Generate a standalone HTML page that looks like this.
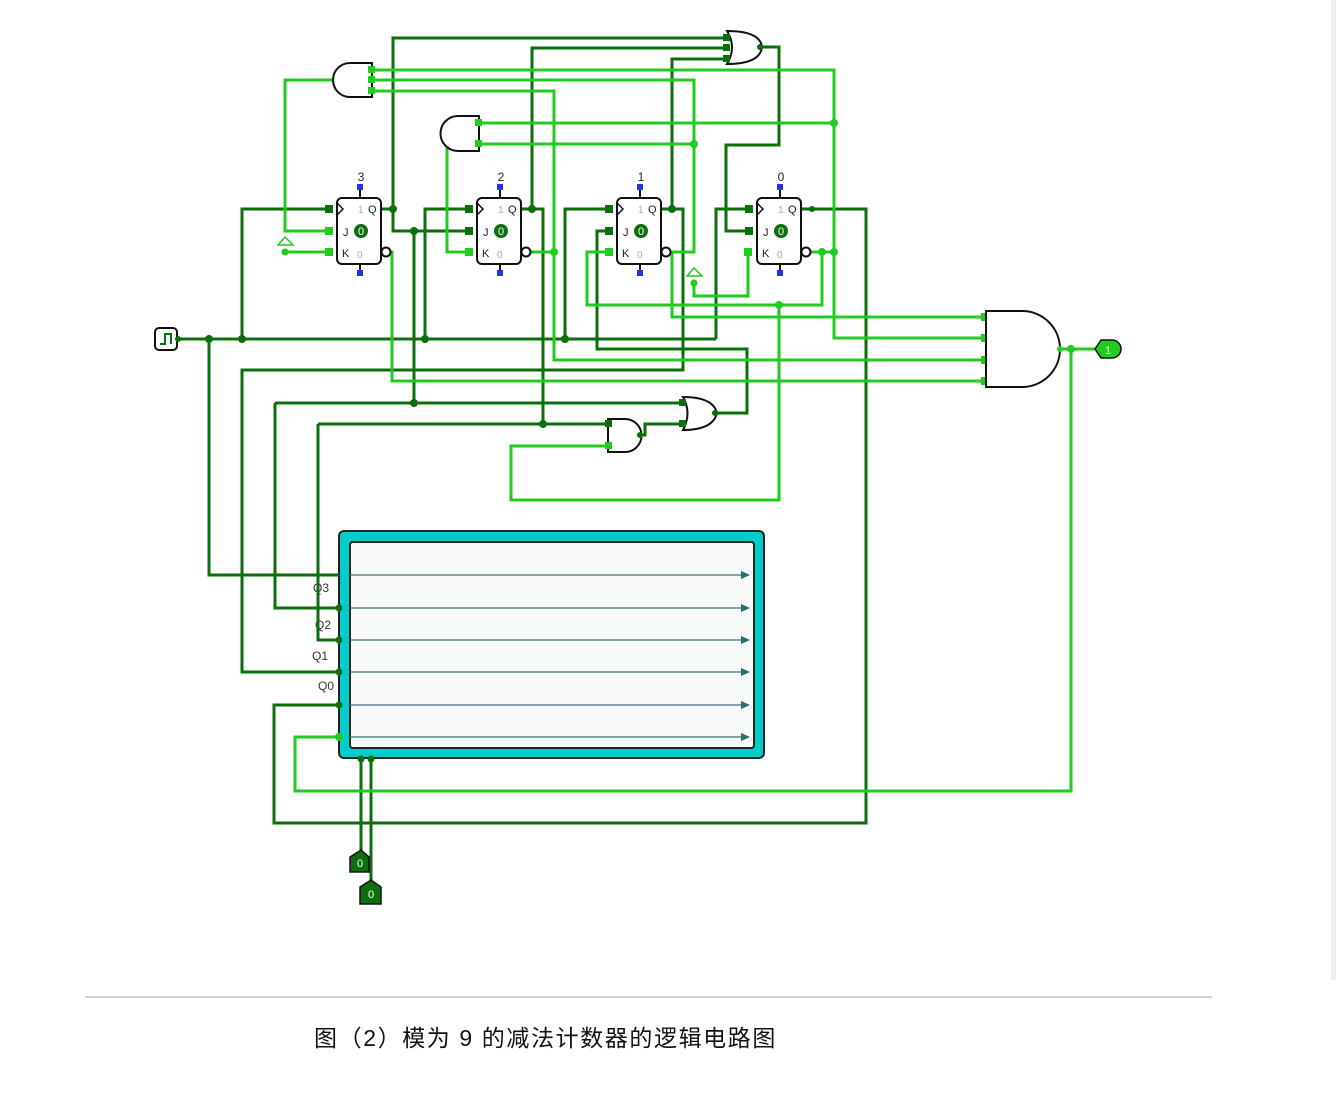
<!DOCTYPE html>
<html><head><meta charset="utf-8"><style>
html,body{margin:0;padding:0;background:#fff;}
svg{display:block;}
</style></head><body>
<svg width="1336" height="1104" viewBox="0 0 1336 1104" xmlns="http://www.w3.org/2000/svg" font-family="Liberation Sans, sans-serif">
<rect width="1336" height="1104" fill="#fff"/>
<rect x="1331" y="0" width="5" height="980" fill="#eee"/>
<!-- block -->
<rect x="339" y="531" width="425" height="227" rx="5" fill="#00cccc" stroke="#222" stroke-width="2"/>
<rect x="350" y="542" width="404" height="206" rx="3" fill="#f8f9f9" stroke="#222" stroke-width="2"/>
<g stroke="#3a6f7a" stroke-width="1.2">
<line x1="350" y1="575" x2="745" y2="575"/><line x1="350" y1="608" x2="745" y2="608"/>
<line x1="350" y1="640" x2="745" y2="640"/><line x1="350" y1="672" x2="745" y2="672"/>
<line x1="350" y1="705" x2="745" y2="705"/><line x1="350" y1="737" x2="745" y2="737"/>
</g>
<g fill="#2a6a75">
<polygon points="741,571 750,575 741,579"/><polygon points="741,604 750,608 741,612"/>
<polygon points="741,636 750,640 741,644"/><polygon points="741,668 750,672 741,676"/>
<polygon points="741,701 750,705 741,709"/><polygon points="741,733 750,737 741,741"/>
</g>
<g font-size="12" fill="#333"><text x="313" y="592">Q3</text><text x="315" y="629">Q2</text><text x="312" y="660">Q1</text><text x="318" y="690">Q0</text></g>

<!-- dark wires -->
<g fill="none" stroke="#0b6f0b" stroke-width="3">
<polyline points="178,339 716,339"/>
<polyline points="242,339 242,209 330,209"/>
<polyline points="425,339 425,209 470,209"/>
<polyline points="565,339 565,209 610,209"/>
<polyline points="716,339 716,209 750,209"/>
<polyline points="209,339 209,575 339,575"/>
<polyline points="382,209 393,209 393,38 727,38"/>
<polyline points="393,209 393,231 470,231"/>
<polyline points="414,231 414,403 683,403"/>
<polyline points="275,403 414,403"/>
<polyline points="275,403 275,608 339,608"/>
<polyline points="522,209 532,209 532,48 727,48"/>
<polyline points="532,209 543,209 543,424 608,424"/>
<polyline points="318,424 543,424"/>
<polyline points="318,424 318,640 339,640"/>
<polyline points="662,209 672,209 672,59 727,59"/>
<polyline points="672,209 683,209 683,370 242,370 242,672 339,672"/>
<polyline points="760,47 779,47 779,145 726,145 726,231 750,231"/>
<polyline points="715,413 747,413 747,349 597,349 597,231 610,231"/>
<polyline points="640,435 645,435 645,424 683,424"/>
<polyline points="802,209 866,209 866,823 274,823 274,705 339,705"/>
<polyline points="361,758 361,850"/><polyline points="371,758 371,880"/>
</g>
<!-- light wires -->
<g fill="none" stroke="#1fcc1f" stroke-width="3">
<polyline points="339,80 285,80 285,231 330,231"/>
<polyline points="285,252 330,252"/>
<polyline points="372,70 834,70 834,338 985,338"/>
<polyline points="372,80 694,80 694,252 662,252"/>
<polyline points="372,91 554,91 554,360 985,360"/>
<polyline points="522,252 554,252"/>
<polyline points="479,123 834,123"/><polyline points="479,144 694,144"/>
<polyline points="447,133 447,252 470,252"/>
<polyline points="386,252 392,252 392,381 985,381"/>
<polyline points="672,252 672,317 985,317"/>
<polyline points="610,252 587,252 587,305 822,305 822,252 802,252 834,252"/>
<polyline points="748,252 748,296 694,296 694,283"/>
<polyline points="608,446 511,446 511,500 779,500 779,305"/>
<polyline points="1060,349 1095,349"/>
<polyline points="1071,349 1071,791 295,791 295,737 339,737"/>
</g>
<!-- dots -->
<g fill="#0b6f0b">
<circle cx="209" cy="339" r="4"/><circle cx="242" cy="339" r="4"/><circle cx="425" cy="339" r="4"/><circle cx="565" cy="339" r="4"/>
<circle cx="393" cy="209" r="4"/><circle cx="532" cy="209" r="4"/><circle cx="672" cy="209" r="4"/><circle cx="812" cy="209" r="3"/>
<circle cx="414" cy="231" r="4"/><circle cx="414" cy="403" r="4"/><circle cx="543" cy="424" r="4"/>
<rect x="325" y="205" width="8" height="8"/><rect x="465" y="205" width="8" height="8"/><rect x="605" y="205" width="8" height="8"/><rect x="745" y="205" width="8" height="8"/>
<rect x="465" y="227" width="8" height="8"/><rect x="605" y="227" width="8" height="8"/><rect x="745" y="227" width="8" height="8"/>
<circle cx="339" cy="608" r="3.5"/><circle cx="339" cy="640" r="3.5"/><circle cx="339" cy="672" r="3.5"/><circle cx="339" cy="705" r="3.5"/>
<circle cx="361" cy="759" r="3.5"/><circle cx="371" cy="759" r="3.5"/>
</g>
<g fill="#1fcc1f">
<circle cx="834" cy="123" r="4"/><circle cx="694" cy="144" r="4"/><circle cx="554" cy="252" r="4"/><circle cx="834" cy="252" r="4"/><circle cx="822" cy="252" r="4"/>
<circle cx="779" cy="305" r="4"/><circle cx="1071" cy="349" r="4"/><circle cx="285" cy="252" r="3.5"/><circle cx="694" cy="283" r="3.5"/>
<circle cx="339" cy="737" r="4"/><circle cx="339" cy="80" r="3"/><circle cx="447" cy="133" r="3"/>
<rect x="325" y="227" width="8" height="8"/><rect x="325" y="248" width="8" height="8"/><rect x="465" y="248" width="8" height="8"/><rect x="605" y="248" width="8" height="8"/><rect x="744" y="248" width="8" height="8"/>
<rect x="981" y="313" width="8" height="8"/><rect x="981" y="334" width="8" height="8"/><rect x="981" y="356" width="8" height="8"/><rect x="981" y="377" width="8" height="8"/>
</g>
<g fill="#fff" stroke="#1fcc1f" stroke-width="1.5"><polygon points="285,237 278,245 293,245"/><polygon points="694,268 687,276 702,276"/></g>

<!-- gates -->
<g fill="#fff" stroke="#111" stroke-width="2">
<path d="M372,63 L350,63 A17,17 0 0 0 350,97 L372,97 Z"/>
<path d="M479,116 L458,116 A17,17 0 0 0 458,151 L479,151 Z"/>
<path d="M727,31 Q760,31 762,47 Q760,64 727,64 Q737,47 727,31 Z"/>
<path d="M683,397 Q713,397 717,413 Q713,430 683,430 Q692,413 683,397 Z"/>
<path d="M608,419 L625,419 A16,16 0 0 1 625,452 L608,452 Z"/>
<path d="M986,311 L1022,311 A38,38 0 0 1 1022,387 L986,387 Z"/>
</g>
<g fill="#0b6f0b"><rect x="723" y="34" width="7" height="7"/><rect x="723" y="44" width="7" height="7"/><rect x="723" y="55" width="7" height="7"/>
<rect x="679" y="399" width="7" height="7"/><rect x="679" y="420" width="7" height="7"/><rect x="605" y="420" width="7" height="7"/>
<circle cx="760" cy="47" r="3"/><circle cx="715" cy="413" r="3"/><circle cx="640" cy="435" r="3"/></g>
<g fill="#1fcc1f"><rect x="368" y="66" width="7" height="7"/><rect x="368" y="76" width="7" height="7"/><rect x="368" y="87" width="7" height="7"/>
<rect x="475" y="119" width="7" height="7"/><rect x="475" y="140" width="7" height="7"/><rect x="605" y="442" width="7" height="7"/><circle cx="1060" cy="349" r="3"/></g>

<!-- flip flops -->
<g transform="translate(337,0)">
<rect x="0" y="198" width="44" height="66" rx="5" fill="#fff" stroke="#111" stroke-width="2"/>
<polyline points="0,203 6,209 0,215" fill="none" stroke="#111" stroke-width="1.5"/>
<line x1="23" y1="190" x2="23" y2="198" stroke="#111" stroke-width="2"/><line x1="23" y1="264" x2="23" y2="272" stroke="#111" stroke-width="2"/>
<rect x="20" y="184" width="6" height="6" fill="#2233ee"/><rect x="20" y="270" width="6" height="6" fill="#2233ee"/>
<circle cx="49" cy="252" r="4.5" fill="#fff" stroke="#111" stroke-width="2"/>
<circle cx="24" cy="231" r="7" fill="#0b6f0b"/>
<text x="24" y="235" font-size="11" fill="#fff" text-anchor="middle">0</text>
<text x="24" y="181" font-size="12" fill="#222" text-anchor="middle">3</text>
<text x="21" y="213" font-size="10" fill="#aaa">1</text><text x="31" y="213" font-size="11" fill="#222">Q</text>
<text x="6" y="236" font-size="11" fill="#222">J</text><text x="5" y="257" font-size="11" fill="#222">K</text><text x="20" y="258" font-size="10" fill="#aaa">0</text>
</g>
<g transform="translate(477,0)">
<rect x="0" y="198" width="44" height="66" rx="5" fill="#fff" stroke="#111" stroke-width="2"/>
<polyline points="0,203 6,209 0,215" fill="none" stroke="#111" stroke-width="1.5"/>
<line x1="23" y1="190" x2="23" y2="198" stroke="#111" stroke-width="2"/><line x1="23" y1="264" x2="23" y2="272" stroke="#111" stroke-width="2"/>
<rect x="20" y="184" width="6" height="6" fill="#2233ee"/><rect x="20" y="270" width="6" height="6" fill="#2233ee"/>
<circle cx="49" cy="252" r="4.5" fill="#fff" stroke="#111" stroke-width="2"/>
<circle cx="24" cy="231" r="7" fill="#0b6f0b"/>
<text x="24" y="235" font-size="11" fill="#fff" text-anchor="middle">0</text>
<text x="24" y="181" font-size="12" fill="#222" text-anchor="middle">2</text>
<text x="21" y="213" font-size="10" fill="#aaa">1</text><text x="31" y="213" font-size="11" fill="#222">Q</text>
<text x="6" y="236" font-size="11" fill="#222">J</text><text x="5" y="257" font-size="11" fill="#222">K</text><text x="20" y="258" font-size="10" fill="#aaa">0</text>
</g>
<g transform="translate(617,0)">
<rect x="0" y="198" width="44" height="66" rx="5" fill="#fff" stroke="#111" stroke-width="2"/>
<polyline points="0,203 6,209 0,215" fill="none" stroke="#111" stroke-width="1.5"/>
<line x1="23" y1="190" x2="23" y2="198" stroke="#111" stroke-width="2"/><line x1="23" y1="264" x2="23" y2="272" stroke="#111" stroke-width="2"/>
<rect x="20" y="184" width="6" height="6" fill="#2233ee"/><rect x="20" y="270" width="6" height="6" fill="#2233ee"/>
<circle cx="49" cy="252" r="4.5" fill="#fff" stroke="#111" stroke-width="2"/>
<circle cx="24" cy="231" r="7" fill="#0b6f0b"/>
<text x="24" y="235" font-size="11" fill="#fff" text-anchor="middle">0</text>
<text x="24" y="181" font-size="12" fill="#222" text-anchor="middle">1</text>
<text x="21" y="213" font-size="10" fill="#aaa">1</text><text x="31" y="213" font-size="11" fill="#222">Q</text>
<text x="6" y="236" font-size="11" fill="#222">J</text><text x="5" y="257" font-size="11" fill="#222">K</text><text x="20" y="258" font-size="10" fill="#aaa">0</text>
</g>
<g transform="translate(757,0)">
<rect x="0" y="198" width="44" height="66" rx="5" fill="#fff" stroke="#111" stroke-width="2"/>
<polyline points="0,203 6,209 0,215" fill="none" stroke="#111" stroke-width="1.5"/>
<line x1="23" y1="190" x2="23" y2="198" stroke="#111" stroke-width="2"/><line x1="23" y1="264" x2="23" y2="272" stroke="#111" stroke-width="2"/>
<rect x="20" y="184" width="6" height="6" fill="#2233ee"/><rect x="20" y="270" width="6" height="6" fill="#2233ee"/>
<circle cx="49" cy="252" r="4.5" fill="#fff" stroke="#111" stroke-width="2"/>
<circle cx="24" cy="231" r="7" fill="#0b6f0b"/>
<text x="24" y="235" font-size="11" fill="#fff" text-anchor="middle">0</text>
<text x="24" y="181" font-size="12" fill="#222" text-anchor="middle">0</text>
<text x="21" y="213" font-size="10" fill="#aaa">1</text><text x="31" y="213" font-size="11" fill="#222">Q</text>
<text x="6" y="236" font-size="11" fill="#222">J</text><text x="5" y="257" font-size="11" fill="#222">K</text><text x="20" y="258" font-size="10" fill="#aaa">0</text>
</g>

<!-- clock source -->
<rect x="155" y="328" width="22" height="22" rx="4" fill="#fff" stroke="#111" stroke-width="2"/>
<polyline points="160,344 165,344 165,334 171,334 171,344" fill="none" stroke="#0b6f0b" stroke-width="2"/>
<circle cx="178" cy="339" r="3" fill="#0b6f0b"/>

<!-- output pin -->
<path d="M1095,349 L1101,340 L1112,340 A9,9 0 0 1 1112,358 L1101,358 Z" fill="#1fcc1f" stroke="#111" stroke-width="1.5"/>
<text x="1108" y="354" font-size="11" fill="#fff" text-anchor="middle">1</text>

<!-- input pins bottom -->
<path d="M361,850 L369,857 L369,872 L350,872 L350,857 Z" fill="#0b6f0b" stroke="#111" stroke-width="1.5"/>
<text x="360" y="867" font-size="11" fill="#fff" text-anchor="middle">0</text>
<path d="M371,880 L381,887 L381,904 L360,904 L360,887 Z" fill="#0b6f0b" stroke="#111" stroke-width="1.5"/>
<text x="371" y="898" font-size="11" fill="#fff" text-anchor="middle">0</text>

<!-- caption -->
<line x1="85" y1="997" x2="1212" y2="997" stroke="#c0c0c0" stroke-width="1.5"/>
<text x="314" y="1046" font-size="23" letter-spacing="1.6" fill="#111" font-family="Liberation Sans, Noto Sans CJK SC, sans-serif">图（2）模为 9 的减法计数器的逻辑电路图</text>
</svg>
</body></html>
